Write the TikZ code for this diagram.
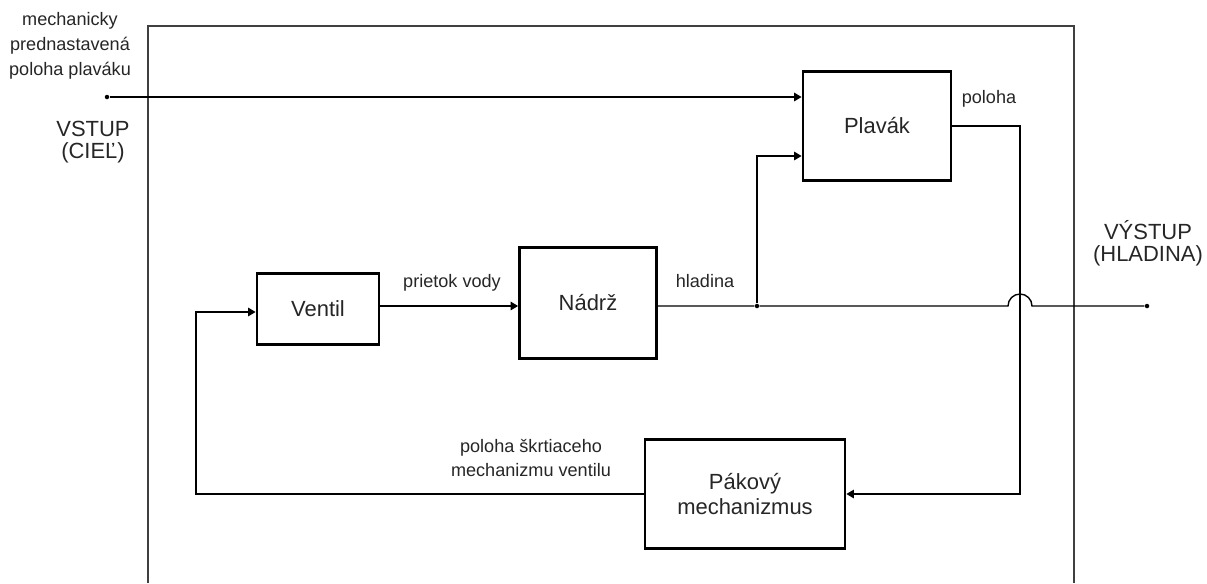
\documentclass[tikz,border=0pt]{standalone}
\usepackage{fontspec}
\setmainfont{Liberation Sans}
\usetikzlibrary{arrows.meta,calc}

\begin{document}
\begin{tikzpicture}[x=0.02cm,y=-0.02cm,
  blok/.style={draw,line width=1.6pt,inner sep=0pt,align=center,
    font=\fontsize{12.5}{14.2}\selectfont,text=black!85},
  popis/.style={inner sep=0pt,align=center,font=\fontsize{10.3}{14.2}\selectfont,text=black!85},
  velky/.style={inner sep=0pt,align=center,font=\fontsize{12.5}{12.6}\selectfont,text=black!85},
  spoj/.style={line width=0.8pt},
  sip/.style={spoj,-{Triangle[length=1.5mm,width=1.7mm]}},
  bod/.style={circle,fill,inner sep=0pt,minimum size=0.09cm}]
  \useasboundingbox (0,0) rectangle (1207,583);
  % ramec systemu
  \draw[line width=0.7pt,black!75] (148,583) |- (1074,26) -- (1074,583);

  % bloky
  \node[blok,minimum width=2.96cm,minimum height=2.18cm] (plavak) at (877,126) {Plavák};
  \node[blok,minimum width=2.44cm,minimum height=1.42cm] (ventil) at (318,309) {Ventil};
  \node[blok,minimum width=2.74cm,minimum height=2.22cm] (nadrz) at (588,303) {Nádrž};
  \node[blok,minimum width=4.0cm,minimum height=2.18cm] (pakovy) at (745,494) {Pákový\\ mechanizmus};

  % body a pomocne suradnice
  \node[bod] (vstup) at (107,97) {};
  \node[bod] (vystup) at (1147,306) {};
  \node[bod] (uzol) at (757,306) {};
  \coordinate (most) at (1020,306);
  \coordinate (spat) at (196,312);

  % spoje
  \draw[sip] (vstup) -- (vstup -| plavak.west);
  \draw[sip] (uzol) |- ($(plavak.west)+(0,30)$);
  \draw[sip] (ventil.east |- uzol) -- (nadrz.west |- uzol);
  \draw[spoj] (nadrz.east |- uzol) -- (uzol) -- ([xshift=-0.24cm]most)
    arc[start angle=180,end angle=0,radius=0.24cm] -- (vystup);
  \draw[sip] (plavak.east) -| (most) |- (pakovy.east);
  \draw[sip] (pakovy.west) -| (spat) -- (spat -| ventil.west);

  % popisy
  \node[popis] at (70,46) {mechanicky\\ prednastavená\\ poloha plaváku};
  \node[velky] at (93,142) {VSTUP\\ (CIEĽ)};
  \node[velky] at (1148,243) {VÝSTUP\\ (HLADINA)};
  \node[popis] at (989,99) {poloha};
  \node[popis] at (452,283) {prietok vody};
  \node[popis] at (705,281) {hladina};
  \node[popis] at (531,458) {poloha škrtiaceho\\ mechanizmu ventilu};
\end{tikzpicture}
\end{document}
